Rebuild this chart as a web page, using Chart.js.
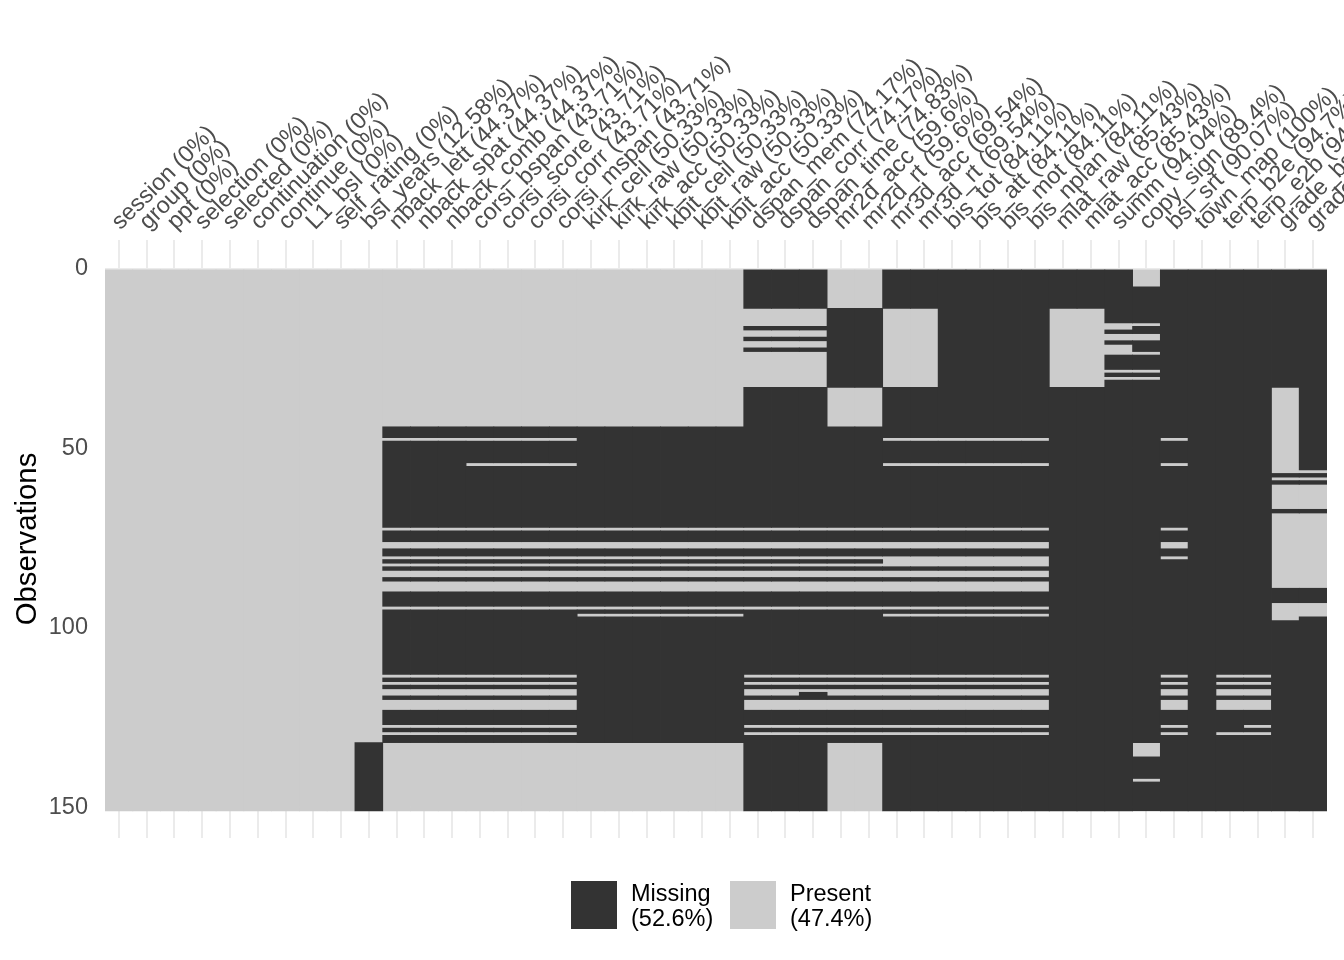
<!DOCTYPE html>
<html><head><meta charset="utf-8">
<script src="https://cdn.jsdelivr.net/npm/chart.js@4.4.1/dist/chart.umd.min.js"></script>
<style>
html,body{margin:0;padding:0;background:#fff;}
#wrap{position:relative;width:1344px;height:960px;overflow:hidden;}
canvas{position:absolute;left:0;top:0;}
.leg-box{position:absolute;width:46px;height:48px;top:881px;}
.leg-text{position:absolute;top:881px;font-family:'Liberation Sans',Arial,sans-serif;font-size:23.5px;line-height:25px;color:#000;white-space:pre;}
</style></head><body>
<div id="wrap"><canvas id="c" width="1344" height="960"></canvas><div id="legend"></div></div>
<script>
// ---------------- data ----------------
const nRows = 151;
const columnNames = [
  'session','group','ppt','selection','selected','continuation','continue','L1_bsl','self_rating',
  'bsl_years','nback_lett','nback_spat','nback_comb','corsi_bspan','corsi_score','corsi_corr','corsi_mspan',
  'kirk_ceil','kirk_raw','kirk_acc','kbit_ceil','kbit_raw','kbit_acc','dspan_mem','dspan_corr','dspan_time',
  'mr2d_acc','mr2d_rt','mr3d_acc','mr3d_rt','bis_tot','bis_att','bis_mot','bis_nplan','mlat_raw','mlat_acc',
  'summ','copy_sign','bsl_srt','town_map','terp_b2e','terp_e2b','grade_bsl','grade_eng'
];
// missing row ranges (0-based, inclusive) for each column pattern
const missNone = [];
const missBslYears = [[132,150]];
const missNback = [[44,46],[48,71],[73,75],[78,79],[81,81],[83,83],[86,86],[90,93],[95,112],[114,114],[116,116],[119,119],[123,126],[128,128],[130,131]];
const missCorsi = [[44,46],[48,53],[55,71],[73,75],[78,79],[81,81],[83,83],[86,86],[90,93],[95,112],[114,114],[116,116],[119,119],[123,126],[128,128],[130,131]];
const missKirk = [[44,71],[73,75],[78,79],[81,81],[83,83],[86,86],[90,93],[95,95],[97,131]];
const missDspan = [[0,10],[16,16],[19,19],[22,22],[33,71],[73,75],[78,79],[81,81],[83,83],[86,86],[90,93],[95,112],[114,114],[116,116],[119,119],[123,126],[128,128],[130,150]];
const missDspanTime = [[0,10],[16,16],[19,19],[22,22],[33,71],[73,75],[78,79],[81,81],[83,83],[86,86],[90,93],[95,112],[114,114],[116,116],[118,119],[123,126],[128,128],[130,150]];
const missMr2d = [[11,32],[44,71],[73,75],[78,79],[81,81],[83,83],[86,86],[90,93],[95,112],[114,114],[116,116],[119,119],[123,126],[128,128],[130,131]];
const missMr3d = [[0,10],[33,46],[48,53],[55,71],[73,75],[78,79],[83,83],[86,86],[90,93],[95,95],[97,112],[114,114],[116,116],[119,119],[123,126],[128,128],[130,150]];
const missBis = [[0,46],[48,53],[55,71],[73,75],[78,79],[83,83],[86,86],[90,93],[95,95],[97,112],[114,114],[116,116],[119,119],[123,126],[128,128],[130,150]];
const missMlat = [[0,10],[33,150]];
const missSumm = [[0,14],[17,17],[20,20],[24,27],[29,29],[31,150]];
const missCopySign = [[5,14],[16,17],[20,22],[24,27],[29,29],[31,131],[136,141],[143,150]];
const missBslSrt = [[0,46],[48,53],[55,71],[73,75],[78,79],[81,112],[114,114],[116,116],[119,119],[123,126],[128,128],[130,150]];
const missTownMap = [[0,150]];
const missTerpB2e = [[0,112],[114,114],[116,116],[119,119],[123,128],[130,150]];
const missTerpE2b = [[0,112],[114,114],[116,116],[119,119],[123,126],[128,128],[130,150]];
const missGradeBsl = [[0,32],[57,57],[59,59],[67,67],[89,92],[98,150]];
const missGradeEng = [[0,55],[57,57],[59,59],[67,67],[89,92],[97,150]];

const columnMissing = [
  missNone,missNone,missNone,missNone,missNone,missNone,missNone,missNone,missNone,
  missBslYears,missNback,missNback,missNback,missCorsi,missCorsi,missCorsi,missCorsi,
  missKirk,missKirk,missKirk,missKirk,missKirk,missKirk,missDspan,missDspan,missDspanTime,
  missMr2d,missMr2d,missMr3d,missMr3d,missBis,missBis,missBis,missBis,missMlat,missMlat,
  missSumm,missCopySign,missBslSrt,missTownMap,missTerpB2e,missTerpE2b,missGradeBsl,missGradeEng
];
const yTickValues = [0,25,50,75,100,125,150];
const yLabelValues = [0,50,100,150];
const seriesNames = ['Missing','Present'];
const seriesColors = ['#333333','#cccccc'];

// ---------------- build ----------------
function fmtPct(v){ return String(Math.round(v*100)/100); }
const columnLabels = [];
const missingData = [];
const presentData = [];
let totalMissing = 0;
columnNames.forEach((name, i) => {
  const ranges = columnMissing[i];
  let cnt = 0;
  ranges.forEach(r => { cnt += r[1]-r[0]+1; });
  totalMissing += cnt;
  const label = name + ' (' + fmtPct(cnt/nRows*100) + '%)';
  columnLabels.push(label);
  let cursor = 0;
  ranges.forEach(r => {
    if (r[0] > cursor) presentData.push({x: label, y: [cursor, r[0]]});
    missingData.push({x: label, y: [r[0], r[1]+1]});
    cursor = r[1]+1;
  });
  if (cursor < nRows) presentData.push({x: label, y: [cursor, nRows]});
});
const totalCells = nRows * columnNames.length;
const pctMissing = (totalMissing/totalCells*100).toFixed(1);
const pctPresent = (100 - totalMissing/totalCells*100).toFixed(1);

const FONT = "'Liberation Sans', Arial, sans-serif";
const barCommon = {grouped:false, categoryPercentage:1, barPercentage:1, borderWidth:0, inflateAmount:0.4};

const chart = new Chart(document.getElementById('c'), {
  type: 'bar',
  data: {
    labels: columnLabels,
    datasets: [
      Object.assign({label: seriesNames[0], data: missingData, backgroundColor: seriesColors[0]}, barCommon),
      Object.assign({label: seriesNames[1], data: presentData, backgroundColor: seriesColors[1]}, barCommon)
    ]
  },
  options: {
    responsive: false,
    animation: false,
    devicePixelRatio: 1,
    layout: {padding: {left: 0, right: 17, top: 0, bottom: 122}},
    plugins: {legend: {display: false}, tooltip: {enabled: false}},
    scales: {
      x: {
        type: 'category', position: 'top', offset: true,
        grid: {offset: false, color: '#ebebeb', lineWidth: 2, drawTicks: false},
        border: {display: false},
        ticks: {autoSkip: false, minRotation: 45, maxRotation: 45, padding: 4, labelOffset: 17, color: '#4d4d4d',
                font: {family: FONT, size: 23.5}},
        afterFit(s){ s.height = 240; s.paddingLeft = 0; s.paddingRight = 0; }
      },
      y: {
        type: 'linear', reverse: true, min: -8.08, max: 158.6,
        afterBuildTicks(s){ s.ticks = yTickValues.map(v => ({value: v})); },
        grid: {color: '#ebebeb', lineWidth: c => (c.tick && yLabelValues.includes(c.tick.value)) ? 2 : 1, drawTicks: false},
        border: {display: false},
        ticks: {padding: 17, color: '#4d4d4d', font: {family: FONT, size: 23.5},
                callback: v => yLabelValues.includes(v) ? String(v) : ''},
        title: {display: true, text: 'Observations', color: '#000', font: {family: FONT, size: 29.3}, padding: {top: 10, bottom: 0}},
        afterFit(s){ s.width = 105; }
      }
    }
  }
});

// HTML legend built from the chart's datasets
(function(){
  const leg = document.getElementById('legend');
  const pcts = [pctMissing, pctPresent];
  const boxLeft = [571, 730];
  chart.data.datasets.forEach((ds, i) => {
    const b = document.createElement('div');
    b.className = 'leg-box';
    b.style.left = boxLeft[i] + 'px';
    b.style.background = ds.backgroundColor;
    leg.appendChild(b);
    const t = document.createElement('div');
    t.className = 'leg-text';
    t.style.left = (boxLeft[i] + 60) + 'px';
    t.textContent = ds.label + '\n(' + pcts[i] + '%)';
    leg.appendChild(t);
  });
})();
</script>
</body></html>
